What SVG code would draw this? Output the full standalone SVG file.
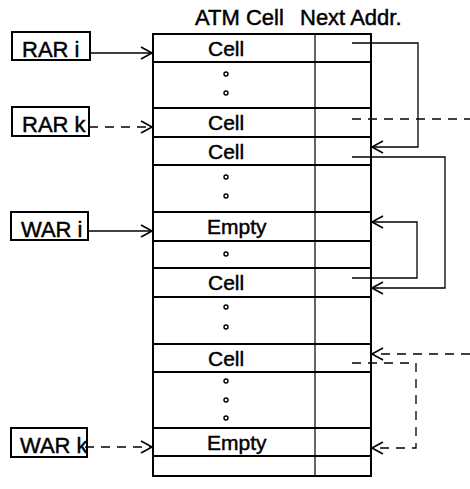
<svg xmlns="http://www.w3.org/2000/svg" width="470" height="489" viewBox="0 0 470 489">
<defs>
<style>
text{font-family:"Liberation Sans",Arial,sans-serif;fill:#000;stroke:#000;stroke-width:0.45}
.hdr{font-size:22px}
.lbl{font-size:22px}
.cell{font-size:21px}
.box{fill:#fff;stroke:#000;stroke-width:2}
.row{stroke:#000;stroke-width:2}
.dot{fill:none;stroke:#000;stroke-width:1.4}
.conn{fill:none;stroke:#000;stroke-width:1.3}
.dash{stroke-dasharray:9,7}
</style>
<marker id="ah" markerUnits="userSpaceOnUse" markerWidth="14" markerHeight="16" refX="0" refY="0" viewBox="-13 -8 14 16" orient="auto" overflow="visible">
<path d="M-11,-6 L0,0 L-11,6" fill="none" stroke="#000" stroke-width="1.6"/>
</marker>
</defs>
<rect width="470" height="489" fill="#fff"/>

<g id="headers">
<text class="hdr" x="195" y="25">ATM Cell</text>
<text class="hdr" x="300" y="25">Next Addr.</text>
</g>

<g id="table">
<rect x="153" y="34" width="218" height="442" fill="none" stroke="#000" stroke-width="2"/>
<line x1="315" y1="34" x2="315" y2="476" stroke="#000" stroke-width="1.2"/>
<g class="row">
<line x1="153" y1="62" x2="371" y2="62"/>
<line x1="153" y1="108" x2="371" y2="108"/>
<line x1="153" y1="137" x2="371" y2="137"/>
<line x1="153" y1="165" x2="371" y2="165"/>
<line x1="153" y1="212" x2="371" y2="212"/>
<line x1="153" y1="241" x2="371" y2="241"/>
<line x1="153" y1="268" x2="371" y2="268"/>
<line x1="153" y1="297" x2="371" y2="297"/>
<line x1="153" y1="344" x2="371" y2="344"/>
<line x1="153" y1="372" x2="371" y2="372"/>
<line x1="153" y1="428" x2="371" y2="428"/>
<line x1="153" y1="456" x2="371" y2="456"/>
</g>
<text class="cell" x="208" y="56">Cell</text>
<text class="cell" x="208" y="130">Cell</text>
<text class="cell" x="208" y="159">Cell</text>
<text class="cell" x="207" y="234">Empty</text>
<text class="cell" x="208" y="290">Cell</text>
<text class="cell" x="208" y="366">Cell</text>
<text class="cell" x="207" y="450">Empty</text>
<g class="dot">
<circle cx="226" cy="74" r="2"/>
<circle cx="226" cy="93" r="2"/>
<circle cx="226" cy="177" r="2"/>
<circle cx="226" cy="196" r="2"/>
<circle cx="226" cy="254" r="2"/>
<circle cx="226" cy="307" r="2"/>
<circle cx="226" cy="327" r="2"/>
<circle cx="226" cy="381" r="2"/>
<circle cx="226" cy="400" r="2"/>
<circle cx="226" cy="418" r="2"/>
</g>
</g>

<g id="rar-i">
<rect class="box" x="12" y="32" width="78" height="28"/>
<text class="lbl" x="22" y="57">RAR i</text>
</g>
<g id="rar-k">
<rect class="box" x="12" y="107" width="77" height="29"/>
<text class="lbl" x="22" y="132">RAR k</text>
</g>
<g id="war-i">
<rect class="box" x="11" y="212" width="77" height="28"/>
<text class="lbl" x="21" y="237">WAR i</text>
</g>
<g id="war-k">
<rect class="box" x="11" y="428" width="76" height="29"/>
<text class="lbl" x="20" y="453">WAR k</text>
</g>

<g id="connectors">
<path class="conn" d="M90,53 H152" marker-end="url(#ah)"/>
<path class="conn dash" d="M89,127 H152" marker-end="url(#ah)"/>
<path class="conn" d="M88,231 H152" marker-end="url(#ah)"/>
<path class="conn dash" d="M85,447 H152" marker-end="url(#ah)"/>
<path class="conn" d="M352,43 H418 V147 H372" marker-end="url(#ah)"/>
<path class="conn dash" d="M352,119 H470"/>
<path class="conn" d="M352,157 H445 V288 H372" marker-end="url(#ah)"/>
<path class="conn" d="M352,278 H417 V222 H372" marker-end="url(#ah)"/>
<path class="conn dash" d="M470,354 H372" marker-end="url(#ah)"/>
<path class="conn dash" d="M352,363 H416 V448 H372" marker-end="url(#ah)"/>
</g>
</svg>
